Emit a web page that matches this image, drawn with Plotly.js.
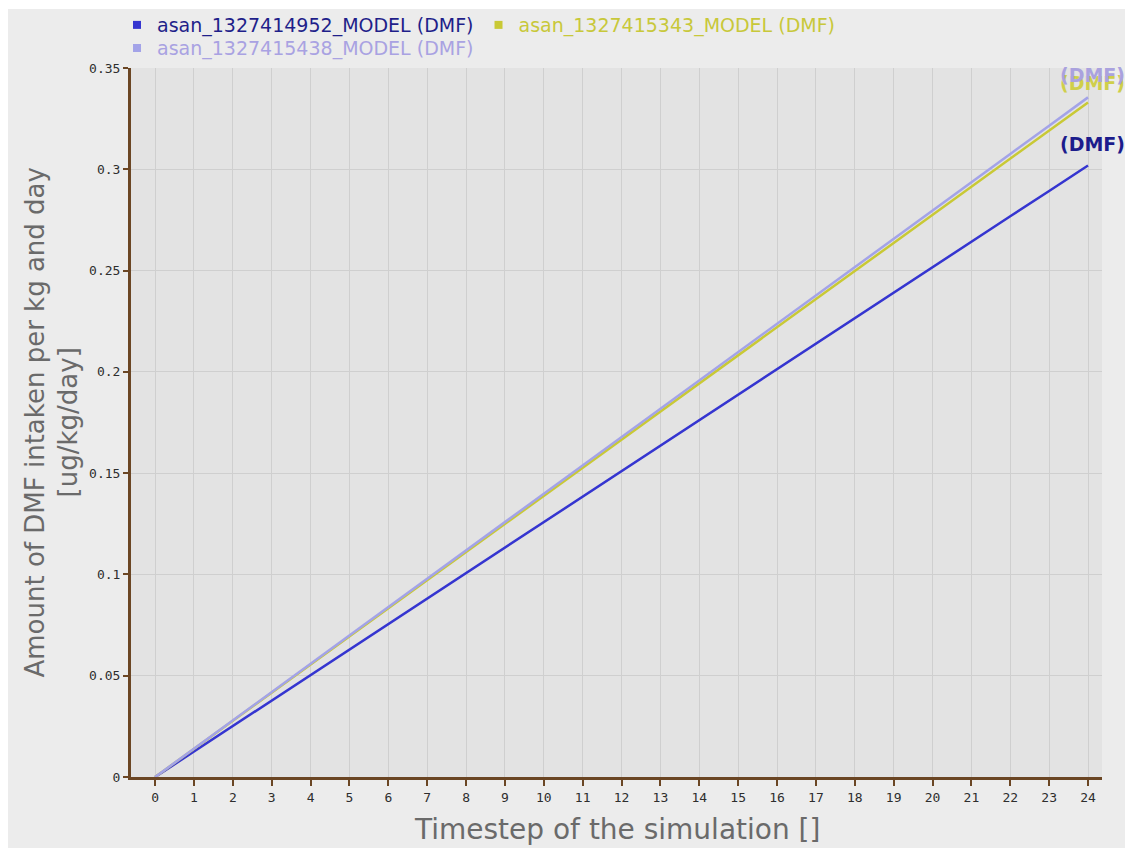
<!DOCTYPE html>
<html>
<head>
<meta charset="utf-8">
<script src="https://cdn.plot.ly/plotly-3.0.1.min.js"></script>
<style>
  html, body { margin: 0; padding: 0; background: #ffffff; width: 1135px; height: 848px; overflow: hidden; }
  #chart { position: absolute; left: 8px; top: 9px; width: 1117px; height: 839px; }
</style>
</head>
<body>
<div id="chart"></div>
<script>
// ---- data ----
const timesteps = [0,1,2,3,4,5,6,7,8,9,10,11,12,13,14,15,16,17,18,19,20,21,22,23,24];
const seriesNames = [
  "asan_1327414952_MODEL (DMF)",
  "asan_1327415343_MODEL (DMF)",
  "asan_1327415438_MODEL (DMF)"
];
const model4952 = [0, 0.0126, 0.0252, 0.0377, 0.0503, 0.0629, 0.0755, 0.0881, 0.1006, 0.1132, 0.1258, 0.1384, 0.1510, 0.1635, 0.1761, 0.1887, 0.2013, 0.2139, 0.2264, 0.2390, 0.2516, 0.2642, 0.2768, 0.2893, 0.3019];
const model5343 = [0, 0.0139, 0.0278, 0.0416, 0.0555, 0.0694, 0.0833, 0.0971, 0.1110, 0.1249, 0.1388, 0.1526, 0.1665, 0.1804, 0.1943, 0.2081, 0.2220, 0.2359, 0.2498, 0.2636, 0.2775, 0.2914, 0.3053, 0.3191, 0.3330];
const model5438 = [0, 0.0140, 0.0280, 0.0419, 0.0559, 0.0699, 0.0839, 0.0979, 0.1118, 0.1258, 0.1398, 0.1538, 0.1678, 0.1817, 0.1957, 0.2097, 0.2237, 0.2377, 0.2516, 0.2656, 0.2796, 0.2936, 0.3076, 0.3215, 0.3355];
const endLabel = "(DMF)";
const xTitle = "Timestep of the simulation []";
const yTitle = "Amount of DMF intaken per kg and day<br>[ug/kg/day]";

// ---- styling ----
const lineColors = ["#3535d0", "#c9c935", "#a3a3e8"];
const textColors = ["#1f1f8a", "#c8c83a", "#a9a2e2"];
const labelColors = ["#1c1c8c", "#cfcf4a", "#aaa2de"];
const labelShift = [8, 6, 9];
const seriesValues = [model4952, model5343, model5438];
const brown = "#6b4624";

const traces = [];
seriesValues.forEach((vals, i) => {
  traces.push({
    x: timesteps, y: vals, type: "scatter", mode: "lines",
    line: { color: lineColors[i], width: 2.5 },
    showlegend: false, hoverinfo: "skip"
  });
});
const legendOf = ["legend", "legend", "legend2"];
seriesValues.forEach((vals, i) => {
  traces.push({
    x: [null], y: [null], type: "scatter", mode: "markers",
    marker: { symbol: "square", size: 8, color: lineColors[i] },
    name: '<span style="color:' + textColors[i] + '">' + seriesNames[i] + '</span>',
    legend: legendOf[i], showlegend: true
  });
});

const annotations = [];
seriesValues.forEach((vals, i) => {
  annotations.push({
    x: timesteps[timesteps.length - 1], y: vals[vals.length - 1],
    xref: "x", yref: "y", text: "<b>" + endLabel + "</b>", showarrow: false,
    xanchor: "center", yanchor: "bottom", yshift: labelShift[i], xshift: 4,
    font: { family: "DejaVu Sans", size: 19, color: labelColors[i] }
  });
});
annotations.push({
  x: 0.5, y: 0, xref: "paper", yref: "paper", yanchor: "top", xanchor: "center",
  yshift: -34, text: xTitle, showarrow: false,
  font: { family: "DejaVu Sans", size: 28, color: "#6a6a6a" }
});
annotations.push({
  x: 0, y: 0.5, xref: "paper", yref: "paper", xanchor: "center", yanchor: "middle",
  xshift: -80, text: yTitle, showarrow: false, textangle: -90,
  font: { family: "DejaVu Sans", size: 26, color: "#6a6a6a" }
});

const layout = {
  width: 1117, height: 839,
  paper_bgcolor: "#ececec", plot_bgcolor: "#e3e3e3",
  margin: { l: 123, r: 23, t: 59, b: 71, autoexpand: false },
  font: { family: "DejaVu Sans", color: "#333" },
  xaxis: {
    range: [-0.62, 24.36], tickmode: "array", tickvals: timesteps,
    ticktext: timesteps.map(String),
    showgrid: true, gridcolor: "#cfcfcf", gridwidth: 1, zeroline: false,
    showline: true, linecolor: brown, linewidth: 3,
    ticks: "outside", ticklen: 6, tickwidth: 2, tickcolor: brown,
    tickfont: { family: "DejaVu Sans Mono", size: 13, color: "#2e2e2e" },
    fixedrange: true, automargin: false
  },
  yaxis: {
    range: [0, 0.35], dtick: 0.05, tick0: 0,
    showgrid: true, gridcolor: "#cfcfcf", gridwidth: 1, zeroline: false,
    showline: true, linecolor: brown, linewidth: 3,
    ticks: "outside", ticklen: 5, tickwidth: 2, tickcolor: brown,
    tickfont: { family: "DejaVu Sans Mono", size: 13, color: "#2e2e2e" },
    fixedrange: true, automargin: false
  },
  legend: {
    orientation: "h", x: -0.0144, y: 1.0606, xanchor: "left", yanchor: "middle",
    bgcolor: "rgba(0,0,0,0)", font: { family: "DejaVu Sans", size: 19, color: "#333" },
    itemclick: false, itemdoubleclick: false
  },
  legend2: {
    orientation: "h", x: -0.0144, y: 1.028, xanchor: "left", yanchor: "middle",
    bgcolor: "rgba(0,0,0,0)", font: { family: "DejaVu Sans", size: 19, color: "#333" },
    itemclick: false, itemdoubleclick: false
  },
  annotations: annotations,
  showlegend: true
};

Plotly.newPlot("chart", traces, layout, { displayModeBar: false, staticPlot: true });
</script>
</body>
</html>
